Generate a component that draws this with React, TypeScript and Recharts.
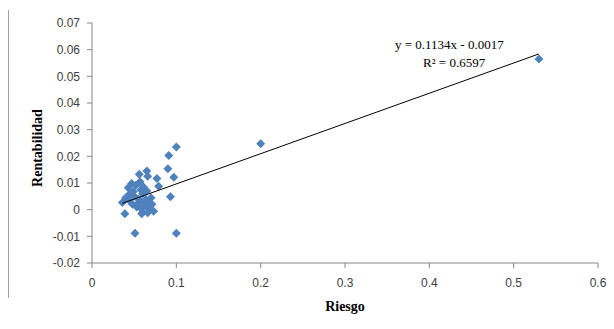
import { ScatterChart, Scatter, XAxis, YAxis, Label } from 'recharts';

// riesgo (x) / rentabilidad (y) per asset
const riesgo = [
  0.53, 0.2, 0.1, 0.091, 0.09, 0.097, 0.093, 0.1, 0.051, 0.077,
  0.079, 0.073, 0.039, 0.065, 0.056, 0.066, 0.047, 0.043, 0.052, 0.058,
  0.045, 0.04, 0.036, 0.05, 0.055, 0.06, 0.065, 0.062, 0.048, 0.053,
  0.058, 0.063, 0.068, 0.06, 0.066, 0.055, 0.044, 0.07, 0.061, 0.057,
  0.049, 0.064, 0.067, 0.059, 0.071,
];
const rentabilidad = [
  0.0565, 0.0247, 0.0235, 0.0203, 0.0153, 0.0122, 0.0048, -0.0088, -0.0088, 0.0117,
  0.0088, -0.0006, -0.0015, 0.0145, 0.0133, 0.0125, 0.0098, 0.0082, 0.0092, 0.0075,
  0.006, 0.0045, 0.0027, 0.005, 0.004, 0.006, 0.007, 0.003, 0.002, 0.001,
  0.0005, 0.0015, 0.0025, -0.001, -0.0012, 0.0025, 0.0035, 0.0045, 0.0085, 0.0105,
  0.0068, 0.0038, 0.0005, -0.0015, 0.002,
];

// linear trendline end points (y = 0.1134x - 0.0017)
const trendX = [0.036, 0.53];
const trendY = [0.0024, 0.0584];

const xTicks = [0, 0.1, 0.2, 0.3, 0.4, 0.5, 0.6];
const yTicks = [-0.02, -0.01, 0, 0.01, 0.02, 0.03, 0.04, 0.05, 0.06, 0.07];

const points = riesgo.map((x, i) => ({ x, y: rentabilidad[i] }));
const trend = trendX.map((x, i) => ({ x, y: trendY[i] }));

const AXIS = '#868686';
const TICK = { fontSize: 12, fill: '#404040', fontFamily: '"Liberation Sans", Arial, sans-serif' };

const Diamond = (props: any) => {
  const { cx, cy } = props;
  const r = 4.5;
  return (
    <path
      d={`M${cx},${cy - r} L${cx + r},${cy} L${cx},${cy + r} L${cx - r},${cy} Z`}
      fill="#4F81BD"
    />
  );
};

const NoDot = () => <g />;

export default function App() {
  return (
    <div style={{ position: 'absolute', left: 0, top: 0, width: 614, height: 329, background: '#fff' }}>
      <div style={{ position: 'absolute', left: 8, top: 10, width: 1, height: 288, background: '#a0a0a0' }} />
      <ScatterChart width={614} height={329} margin={{ top: 23, right: 16, bottom: 16, left: 8 }}>
        <XAxis
          type="number"
          dataKey="x"
          domain={[0, 0.6]}
          ticks={xTicks}
          interval={0}
          height={50}
          stroke={AXIS}
          tickSize={5}
          tickMargin={10}
          tick={TICK}
        >
          <Label
            value="Riesgo"
            position="insideBottom"
            offset={2}
            style={{ fontFamily: '"Liberation Serif", "Times New Roman", serif', fontWeight: 'bold', fontSize: 14, fill: '#000' }}
          />
        </XAxis>
        <YAxis
          type="number"
          dataKey="y"
          domain={[-0.02, 0.07]}
          ticks={yTicks}
          interval={0}
          width={84}
          stroke={AXIS}
          tickSize={5}
          tickMargin={7}
          tick={TICK}
        >
          <Label
            content={(p: any) => {
              const vb = p.viewBox;
              const x = vb.x + 29;
              const y = vb.y + vb.height / 2 + 5;
              return (
                <text
                  x={x}
                  y={y}
                  transform={`rotate(-90, ${x}, ${y})`}
                  textAnchor="middle"
                  dominantBaseline="central"
                  style={{ fontFamily: '"Liberation Serif", "Times New Roman", serif', fontWeight: 'bold', fontSize: 14, fill: '#000' }}
                >
                  Rentabilidad
                </text>
              );
            }}
          />
        </YAxis>
        <Scatter data={points} shape={<Diamond />} isAnimationActive={false} />
        <Scatter
          data={trend}
          line={{ stroke: '#000', strokeWidth: 1 }}
          shape={<NoDot />}
          isAnimationActive={false}
        />
      </ScatterChart>
      <div
        style={{
          position: 'absolute',
          left: 380,
          top: 36,
          width: 160,
          textAlign: 'center',
          fontFamily: '"Liberation Serif", "Times New Roman", serif',
          fontSize: 13,
          lineHeight: '18px',
          color: '#000',
        }}
      >
        <div style={{ textAlign: 'left', paddingLeft: 15 }}>y = 0.1134x - 0.0017</div>
        <div style={{ textAlign: 'left', paddingLeft: 43 }}>R² = 0.6597</div>
      </div>
    </div>
  );
}
